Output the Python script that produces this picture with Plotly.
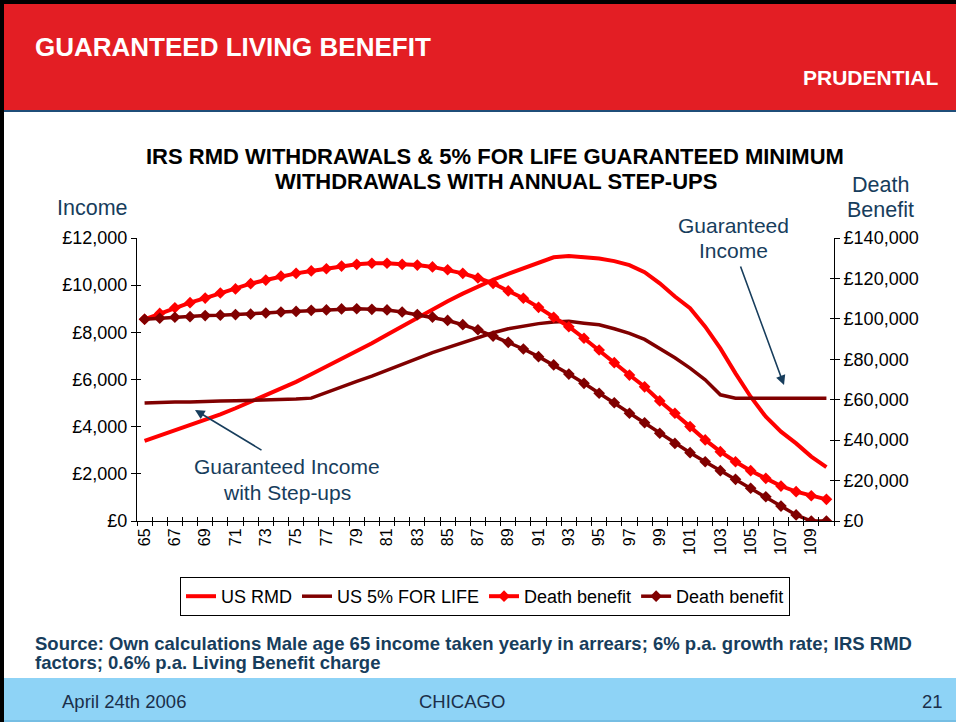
import plotly.graph_objects as go

# ---------------- data ----------------
ages = list(range(65, 111))

us_rmd = [3400, 3620, 3840, 4060, 4290, 4520, 4780, 5050, 5330, 5610,
          5900, 6220, 6540, 6870, 7200, 7540, 7900, 8260, 8620, 8970,
          9320, 9640, 9950, 10230, 10480, 10720, 10950, 11180, 11240, 11200,
          11130, 11020, 10850, 10550, 10080, 9520, 9020, 8240, 7320, 6260,
          5270, 4420, 3790, 3290, 2730, 2280]

us_5pct = [5000, 5030, 5050, 5050, 5080, 5090, 5100, 5110, 5130, 5140,
           5170, 5210, 5450, 5700, 5920, 6140, 6400, 6660, 6900, 7140,
           7350, 7560, 7770, 7980, 8150, 8260, 8370, 8440, 8470, 8390,
           8320, 8150, 7960, 7700, 7330, 6920, 6480, 5990, 5350, 5210,
           5200, 5200, 5200, 5200, 5200, 5200]

death_rmd = [99800, 102700, 105500, 108000, 110300, 112800, 114800, 117400, 119200, 121100,
             122500, 123700, 124800, 126100, 127000, 127500, 127500, 127000, 126600, 125700,
             124300, 122500, 120200, 117600, 113800, 110200, 105700, 100800, 96100, 90400,
             84600, 78300, 72200, 66400, 59400, 53300, 46700, 40100, 34300, 29300,
             24900, 21100, 17300, 14500, 12500, 10700]

death_5pct = [99800, 100300, 100800, 101100, 101600, 101800, 102100, 102300, 102900, 103400,
              103700, 104200, 104400, 104900, 105000, 104700, 104400, 103400, 102100, 100900,
              99200, 97100, 94600, 91500, 88400, 85100, 81300, 77200, 72700, 68100,
              63200, 58500, 53300, 48600, 43400, 38400, 33800, 29300, 24900, 20600,
              16200, 12000, 7400, 3000, 0, 0]

label_ages = list(range(65, 110, 2))
left_ticks = list(range(0, 12001, 2000))
right_ticks = list(range(0, 140001, 20000))

# ---------------- geometry helpers ----------------
W, H = 956, 722
PL, PR, PT, PB = 137, 834, 238, 521


def px(x):
    return (x - PL) / (PR - PL)


def py(y):
    return (PB - y) / (PB - PT)


BRIGHT = "#FF0000"
DARK = "#800000"
TEAL = "#173D5C"
FONT = "Liberation Sans, Arial, sans-serif"

fig = go.Figure()

fig.add_trace(go.Scatter(x=ages, y=us_rmd, name="US RMD", mode="lines",
                         line=dict(color=BRIGHT, width=4), yaxis="y"))
fig.add_trace(go.Scatter(x=ages, y=us_5pct, name="US 5% FOR LIFE", mode="lines",
                         line=dict(color=DARK, width=3.5), yaxis="y"))
fig.add_trace(go.Scatter(x=ages, y=death_rmd, name="Death benefit", mode="lines+markers",
                         line=dict(color=BRIGHT, width=4),
                         marker=dict(symbol="diamond", size=9, color=BRIGHT),
                         yaxis="y2"))
fig.add_trace(go.Scatter(x=ages, y=death_5pct, name="Death benefit", mode="lines+markers",
                         line=dict(color=DARK, width=3.5),
                         marker=dict(symbol="diamond", size=9, color=DARK),
                         yaxis="y2"))
# dummy traces for the inner-tick overlay axes
fig.add_trace(go.Scatter(x=[None], y=[None], xaxis="x2", yaxis="y3", showlegend=False,
                         hoverinfo="skip"))
fig.add_trace(go.Scatter(x=[None], y=[None], xaxis="x2", yaxis="y4", showlegend=False,
                         hoverinfo="skip"))

boundaries = [a - 0.5 for a in ages] + [ages[-1] + 0.5]

fig.update_layout(
    width=W, height=H,
    margin=dict(l=PL, r=W - PR, t=PT, b=H - PB, pad=0),
    paper_bgcolor="white", plot_bgcolor="white",
    font=dict(family=FONT, color="black", size=16),
    showlegend=True,
    legend=dict(orientation="h", x=px(180), y=py(577), xanchor="left", yanchor="top",
                bordercolor="black", borderwidth=1, bgcolor="white",
                font=dict(size=18, family=FONT), itemwidth=30,
                tracegroupgap=0),
    xaxis=dict(range=[64.5, 110.5], tickmode="array", tickvals=label_ages,
               ticktext=[str(a) for a in label_ages], ticks="", tickangle=-90,
               tickfont=dict(size=16), showline=True, linecolor="black", linewidth=1,
               showgrid=False, zeroline=False, fixedrange=True,
               minor=dict(tickmode="array", tickvals=boundaries, ticks="outside",
                          ticklen=4, tickcolor="black", showgrid=False)),
    xaxis2=dict(overlaying="x", range=[64.5, 110.5], tickmode="array", tickvals=boundaries,
                ticks="inside", ticklen=4, tickcolor="black", showticklabels=False,
                showline=False, showgrid=False, zeroline=False, anchor="y3", side="bottom"),
    yaxis=dict(range=[0, 12000], tickmode="array", tickvals=left_ticks,
               ticktext=["£{:,}".format(v) for v in left_ticks],
               ticks="outside", ticklen=5, tickcolor="black", tickfont=dict(size=18),
               showline=True, linecolor="black", linewidth=1, showgrid=False,
               zeroline=False),
    yaxis2=dict(range=[0, 140000], tickmode="array", tickvals=right_ticks,
                ticktext=["£{:,}".format(v) for v in right_ticks],
                overlaying="y", side="right", anchor="x",
                ticks="outside", ticklen=5, tickcolor="black", tickfont=dict(size=18),
                showline=True, linecolor="black", linewidth=1, showgrid=False,
                zeroline=False),
    yaxis3=dict(range=[0, 12000], tickmode="array", tickvals=left_ticks, overlaying="y",
                side="left", anchor="x2", ticks="inside", ticklen=4, tickcolor="black",
                showticklabels=False, showline=False, showgrid=False, zeroline=False),
    yaxis4=dict(range=[0, 140000], tickmode="array", tickvals=right_ticks, overlaying="y",
                side="right", anchor="x2", ticks="inside", ticklen=4, tickcolor="black",
                showticklabels=False, showline=False, showgrid=False, zeroline=False),
)

shapes = []
# header band
shapes.append(dict(type="rect", xref="paper", yref="paper", x0=px(0), x1=px(W),
                   y0=py(110), y1=py(0), fillcolor="#E31E24", line=dict(width=0), layer="below"))
shapes.append(dict(type="rect", xref="paper", yref="paper", x0=px(0), x1=px(W),
                   y0=py(4), y1=py(0), fillcolor="black", line=dict(width=0), layer="below"))
shapes.append(dict(type="line", xref="paper", yref="paper", x0=px(0), x1=px(W),
                   y0=py(111), y1=py(111), line=dict(color="#1F4E79", width=2), layer="below"))
# footer band
shapes.append(dict(type="rect", xref="paper", yref="paper", x0=px(0), x1=px(W),
                   y0=py(H), y1=py(678), fillcolor="#8ED3F6", line=dict(width=0), layer="below"))
shapes.append(dict(type="line", xref="paper", yref="paper", x0=px(0), x1=px(W),
                   y0=py(721), y1=py(721), line=dict(color="#5FA9D1", width=1), layer="below"))
# left border
shapes.append(dict(type="rect", xref="paper", yref="paper", x0=px(0), x1=px(4),
                   y0=py(H), y1=py(0), fillcolor="black", line=dict(width=0), layer="below"))
fig.update_layout(shapes=shapes)

ann = []


def text(x, y, s, size, color="black", bold=False, xanchor="center", yanchor="middle",
         align="center"):
    ann.append(dict(x=px(x), y=py(y), xref="paper", yref="paper", text=s, showarrow=False,
                    xanchor=xanchor, yanchor=yanchor, align=align,
                    font=dict(family=FONT, size=size, color=color,
                              weight="bold" if bold else "normal")))


text(33, 47, "GUARANTEED LIVING BENEFIT", 26, "white", True, xanchor="left")
text(871, 77, "PRUDENTIAL", 21, "white", True)
text(495, 156, "IRS RMD WITHDRAWALS & 5% FOR LIFE GUARANTEED MINIMUM", 22, "black", True)
text(496, 182, "WITHDRAWALS WITH ANNUAL STEP-UPS", 22, "black", True)
text(55, 208, "Income", 21.5, TEAL, xanchor="left")
text(880, 185, "Death", 21.5, TEAL)
text(880, 210, "Benefit", 21.5, TEAL)
text(733, 226, "Guaranteed", 21, TEAL)
text(733, 250, "Income", 21, TEAL)
text(287, 466, "Guaranteed Income", 21, TEAL)
text(287, 492, "with Step-ups", 21, TEAL)
text(33, 643, "Source: Own calculations Male age 65 income taken yearly in arrears; 6% p.a. growth rate; IRS RMD",
     18.5, TEAL, True, xanchor="left", align="left")
text(33, 662, "factors; 0.6% p.a. Living Benefit charge",
     18.5, TEAL, True, xanchor="left", align="left")
text(60, 701, "April 24th 2006", 18.5, "#1B2F4A", xanchor="left")
text(462, 701, "CHICAGO", 18.5, "#1B2F4A")
text(945, 701, "21", 18.5, "#1B2F4A", xanchor="right")

# arrows (head at x,y ; tail offset in pixels)
for (hx, hy, tx, ty) in [(784, 385, 740, 265), (195, 410, 263, 451)]:
    ann.append(dict(x=px(hx), y=py(hy), xref="paper", yref="paper", ax=tx - hx, ay=ty - hy,
                    axref="pixel", ayref="pixel", showarrow=True, arrowhead=2,
                    arrowsize=1.2, arrowwidth=1.6, arrowcolor=TEAL, text=""))

fig.update_layout(annotations=ann)

fig.write_html("out.html", config={"displayModeBar": False},
               post_script="document.body.style.margin='0';document.body.style.padding='0';"
                           "document.body.style.overflow='hidden';window.dispatchEvent(new Event('resize'));")
